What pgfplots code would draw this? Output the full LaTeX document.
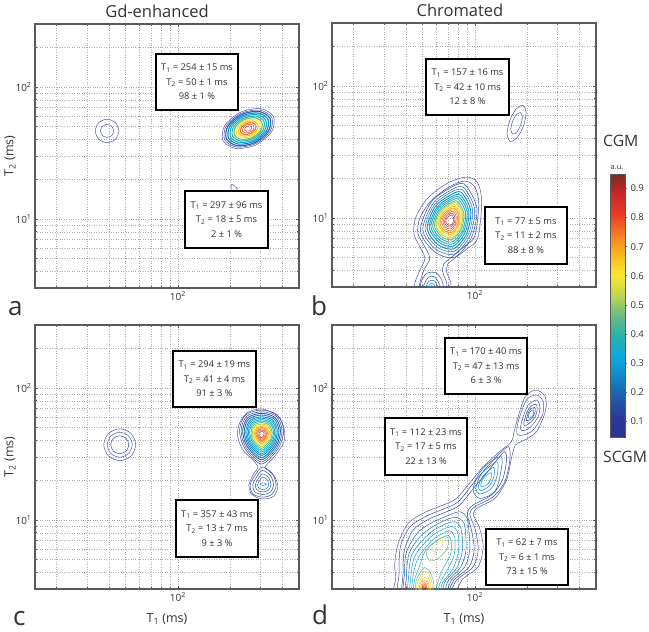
\documentclass[border=0pt]{standalone}
\usepackage{fontspec}
\setmainfont{Open Sans}
\usepackage{pgfplots}
\pgfplotsset{compat=1.18}

\definecolor{L05}{HTML}{5058A8}
\definecolor{L10}{HTML}{3E4AA0}
\definecolor{L15}{HTML}{2C4CA2}
\definecolor{L20}{HTML}{2260AB}
\definecolor{L25}{HTML}{1A74B8}
\definecolor{L30}{HTML}{1089C8}
\definecolor{L35}{HTML}{0D9FD8}
\definecolor{L40}{HTML}{10AED8}
\definecolor{L45}{HTML}{2FB3A8}
\definecolor{L50}{HTML}{6DBB82}
\definecolor{L55}{HTML}{B6D65A}
\definecolor{L60}{HTML}{FBE62D}
\definecolor{L65}{HTML}{FBC020}
\definecolor{L70}{HTML}{F7A11F}
\definecolor{L75}{HTML}{F37A22}
\definecolor{L80}{HTML}{EC3A26}
\definecolor{L85}{HTML}{D92A27}
\definecolor{L90}{HTML}{B6262A}
\definecolor{L95}{HTML}{8E2A25}
\definecolor{frame}{HTML}{5A5A5A}
\definecolor{txt}{HTML}{333333}

\pgfplotsset{
  peak/.style={line width=.5pt},
  tpanel/.style={
    scale only axis, width=264pt, height=264pt,
    xmin=15, xmax=500, ymin=3, ymax=300,
    xtick={100}, xticklabels={10\textsuperscript{2}},
    ytick={10,100}, yticklabels={10\textsuperscript{1},10\textsuperscript{2}},
    minor xtick={20,30,40,50,60,70,80,90,200,300,400},
    minor ytick={3,4,5,6,7,8,9,20,30,40,50,60,70,80,90,200},
    xmajorgrids, xminorgrids, ymajorgrids, yminorgrids,
    grid style={dotted, draw=black!32, line width=.45pt},
    minor grid style={dotted, draw=black!32, line width=.45pt},
    axis line style={draw=frame, line width=1.1pt},
    tick style={draw=frame, line width=.6pt},
    tick align=inside, major tick length=3pt, minor tick length=2pt,
    tick label style={font=\fontsize{10}{12}\selectfont, text=txt},
    label style={font=\fontsize{12.5}{15}\selectfont, text=txt},
    ylabel shift=-7pt, xlabel shift=5pt,
  },
}

% contours: columns are log10(T1) and log10(T2)
\newcommand{\cl}[2]{\addplot[draw=#1, line width=.5pt, smooth cycle] table[row sep=\\, header=false, x expr={10^\thisrowno{0}}, y expr={10^\thisrowno{1}}] {#2};}
\newcommand{\ck}[2]{\addplot[draw=#1, peak, smooth cycle] table[row sep=\\, header=false, x expr={10^\thisrowno{0}}, y expr={10^\thisrowno{1}}] {#2};}
\newcommand{\op}[2]{\addplot[draw=#1, line width=.5pt, smooth] table[row sep=\\, header=false, x expr={10^\thisrowno{0}}, y expr={10^\thisrowno{1}}] {#2};}

% annotation box: left, top, right, bottom in pt, then three lines
\newcommand{\info}[7]{%
  \draw[black, line width=2pt, fill=white] (#1pt,-#2pt) rectangle (#3pt,-#4pt);
  \node[align=center, text=txt, inner sep=0pt, font=\fontsize{9.3}{14.4}\selectfont] at ({(#1+#3)/2*1pt},{-(#2+#4)/2*1pt}) {#5\\#6\\#7};
}
\newcommand{\Tone}{T\textsubscript{1}}
\newcommand{\Ttwo}{T\textsubscript{2}}

\begin{document}
\begin{tikzpicture}
\path[use as bounding box] (0,0) rectangle (649pt,-632pt);

% a
\begin{loglogaxis}[tpanel, at={(35pt,-288pt)}, ylabel={\Ttwo{} (ms)}, peak/.style={line width=1.1pt}]
\cl{L05}{1.660 1.667\\1.640 1.730\\1.592 1.756\\1.544 1.730\\1.524 1.667\\1.544 1.604\\1.592 1.578\\1.640 1.604\\}
\cl{L05}{1.630 1.667\\1.619 1.702\\1.592 1.716\\1.565 1.702\\1.554 1.667\\1.565 1.632\\1.592 1.618\\1.619 1.632\\}
\cl{L05}{2.310 1.263\\2.342 1.230\\2.330 1.205\\2.310 1.205\\}
\cl{L05}{2.552 1.775\\2.478 1.836\\2.362 1.809\\2.271 1.709\\2.260 1.595\\2.334 1.534\\2.450 1.561\\2.541 1.661\\}
\cl{L10}{2.542 1.769\\2.473 1.825\\2.365 1.800\\2.280 1.707\\2.270 1.601\\2.339 1.545\\2.447 1.570\\2.532 1.663\\}
\ck{L20}{2.532 1.762\\2.468 1.815\\2.368 1.792\\2.290 1.706\\2.280 1.608\\2.344 1.555\\2.444 1.578\\2.522 1.664\\}
\ck{L30}{2.520 1.755\\2.462 1.803\\2.372 1.782\\2.301 1.704\\2.292 1.615\\2.350 1.567\\2.440 1.588\\2.511 1.666\\}
\ck{L40}{2.508 1.748\\2.456 1.791\\2.375 1.772\\2.311 1.702\\2.304 1.622\\2.356 1.579\\2.437 1.598\\2.501 1.668\\}
\ck{L45}{2.497 1.741\\2.451 1.779\\2.379 1.762\\2.322 1.700\\2.315 1.629\\2.361 1.591\\2.433 1.608\\2.490 1.670\\}
\ck{L50}{2.485 1.734\\2.445 1.767\\2.382 1.752\\2.333 1.698\\2.327 1.636\\2.367 1.603\\2.430 1.618\\2.479 1.672\\}
\ck{L60}{2.473 1.726\\2.439 1.754\\2.386 1.742\\2.344 1.696\\2.339 1.644\\2.373 1.616\\2.426 1.628\\2.468 1.674\\}
\ck{L65}{2.461 1.719\\2.433 1.742\\2.389 1.732\\2.355 1.694\\2.351 1.651\\2.379 1.628\\2.423 1.638\\2.457 1.676\\}
\ck{L75}{2.450 1.712\\2.428 1.730\\2.393 1.722\\2.366 1.692\\2.362 1.658\\2.384 1.640\\2.419 1.648\\2.446 1.678\\}
\cl{L80}{2.438 1.705\\2.422 1.718\\2.396 1.712\\2.376 1.690\\2.374 1.665\\2.390 1.652\\2.416 1.658\\2.436 1.680\\}
\cl{L85}{2.426 1.698\\2.416 1.706\\2.400 1.702\\2.387 1.688\\2.386 1.672\\2.396 1.664\\2.412 1.668\\2.425 1.682\\}
\end{loglogaxis}

% b
\begin{loglogaxis}[tpanel, at={(332pt,-287pt)}, peak/.style={line width=.9pt}]
\cl{L05}{2.279 1.853\\2.296 1.799\\2.281 1.697\\2.243 1.607\\2.204 1.581\\2.186 1.635\\2.201 1.737\\2.239 1.827\\}
\cl{L05}{2.264 1.798\\2.274 1.766\\2.265 1.705\\2.242 1.651\\2.219 1.636\\2.208 1.668\\2.217 1.729\\2.240 1.783\\}
\op{L05}{1.648 .416\\1.654 .507\\1.683 .605\\1.712 .696\\1.677 .795\\1.648 .886\\1.660 1.007\\1.729 1.151\\1.844 1.265\\1.954 1.310\\2.017 1.265\\2.040 1.113\\2.017 .848\\1.960 .772\\1.885 .696\\1.844 .651\\1.838 .590\\1.862 .507\\1.856 .416\\}
\op{L10}{1.671 .416\\1.683 .507\\1.706 .605\\1.740 .696\\1.706 .795\\1.671 .886\\1.683 1.0\\1.746 1.128\\1.850 1.234\\1.942 1.280\\2.0 1.234\\2.023 1.106\\2.0 .863\\1.942 .787\\1.867 .704\\1.821 .651\\1.815 .590\\1.838 .507\\1.833 .416\\}
\cl{L15}{1.938 1.258\\2.011 1.080\\1.982 .856\\1.885 .703\\1.769 .742\\1.686 .901\\1.744 1.112\\1.846 1.219\\}
\cl{L20}{1.931 1.235\\1.998 1.072\\1.972 .867\\1.883 .727\\1.776 .762\\1.700 .908\\1.754 1.101\\1.847 1.200\\}
\cl{L25}{1.926 1.215\\1.987 1.065\\1.963 .876\\1.881 .747\\1.782 .780\\1.713 .914\\1.762 1.092\\1.847 1.183\\}
\ck{L30}{1.920 1.196\\1.976 1.058\\1.954 .885\\1.879 .767\\1.788 .797\\1.725 .920\\1.770 1.083\\1.848 1.166\\}
\ck{L35}{1.914 1.176\\1.965 1.051\\1.945 .894\\1.877 .787\\1.795 .814\\1.737 .926\\1.778 1.074\\1.849 1.149\\}
\ck{L40}{1.909 1.160\\1.956 1.046\\1.937 .902\\1.875 .804\\1.800 .828\\1.747 .931\\1.784 1.066\\1.850 1.135\\}
\ck{L45}{1.904 1.144\\1.947 1.040\\1.930 .910\\1.873 .820\\1.805 .843\\1.757 .935\\1.791 1.058\\1.850 1.121\\}
\ck{L50}{1.899 1.127\\1.937 1.034\\1.922 .917\\1.871 .837\\1.810 .857\\1.767 .940\\1.797 1.051\\1.851 1.107\\}
\ck{L55}{1.895 1.114\\1.930 1.030\\1.916 .923\\1.870 .850\\1.814 .869\\1.775 .944\\1.803 1.045\\1.851 1.096\\}
\ck{L60}{1.891 1.101\\1.923 1.025\\1.910 .929\\1.869 .864\\1.819 .880\\1.783 .948\\1.808 1.039\\1.852 1.085\\}
\ck{L65}{1.887 1.088\\1.915 1.020\\1.904 .935\\1.867 .877\\1.823 .892\\1.791 .952\\1.813 1.033\\1.852 1.074\\}
\ck{L70}{1.883 1.075\\1.908 1.016\\1.898 .941\\1.866 .890\\1.827 .903\\1.799 .956\\1.819 1.027\\1.853 1.062\\}
\cl{L75}{1.880 1.062\\1.900 1.011\\1.892 .948\\1.864 .904\\1.831 .915\\1.808 .960\\1.824 1.020\\1.853 1.051\\}
\cl{L80}{1.876 1.049\\1.893 1.007\\1.886 .954\\1.863 .917\\1.835 .926\\1.816 .964\\1.829 1.014\\1.854 1.040\\}
\cl{L85}{1.872 1.036\\1.886 1.002\\1.880 .960\\1.862 .931\\1.839 .938\\1.824 .968\\1.835 1.008\\1.854 1.029\\}
\cl{L90}{1.868 1.023\\1.878 .998\\1.874 .966\\1.860 .944\\1.844 .949\\1.832 .972\\1.840 1.002\\1.855 1.018\\}
\op{L15}{1.683 .416\\1.688 .507\\1.717 .575\\1.752 .590\\1.787 .575\\1.815 .507\\1.821 .416\\}
\op{L20}{1.700 .416\\1.706 .492\\1.729 .545\\1.752 .560\\1.775 .545\\1.798 .492\\1.804 .416\\}
\op{L25}{1.712 .416\\1.717 .476\\1.735 .522\\1.752 .529\\1.769 .522\\1.787 .476\\1.792 .416\\}
\op{L30}{1.723 .416\\1.729 .469\\1.740 .499\\1.752 .507\\1.763 .499\\1.775 .469\\1.781 .416\\}
\op{L35}{1.729 .416\\1.735 .461\\1.752 .488\\1.769 .461\\1.775 .416\\}
\end{loglogaxis}

% c
\begin{loglogaxis}[tpanel, at={(35pt,-589pt)}, ylabel={\Ttwo{} (ms)}, xlabel={\Tone{} (ms)}, peak/.style={line width=.85pt}]
\cl{L05}{1.757 1.570\\1.730 1.656\\1.665 1.691\\1.600 1.656\\1.573 1.570\\1.600 1.484\\1.665 1.449\\1.730 1.484\\}
\cl{L05}{1.737 1.570\\1.716 1.637\\1.665 1.665\\1.614 1.637\\1.593 1.570\\1.614 1.503\\1.665 1.475\\1.716 1.503\\}
\cl{L10}{1.717 1.570\\1.702 1.618\\1.665 1.638\\1.628 1.618\\1.613 1.570\\1.628 1.522\\1.665 1.502\\1.702 1.522\\}
\cl{L05}{2.502 1.401\\2.560 1.485\\2.612 1.591\\2.612 1.697\\2.577 1.788\\2.485 1.841\\2.398 1.811\\2.352 1.720\\2.346 1.629\\2.375 1.530\\2.427 1.462\\2.462 1.401\\2.433 1.341\\2.410 1.265\\2.421 1.204\\2.462 1.166\\2.502 1.159\\2.554 1.181\\2.577 1.250\\2.560 1.325\\2.519 1.378\\}
\cl{L10}{2.483 1.833\\2.575 1.795\\2.610 1.681\\2.581 1.545\\2.483 1.424\\2.385 1.545\\2.356 1.681\\2.391 1.795\\}
\cl{L15}{2.483 1.820\\2.569 1.785\\2.601 1.679\\2.574 1.552\\2.483 1.440\\2.392 1.552\\2.365 1.679\\2.397 1.785\\}
\ck{L20}{2.483 1.808\\2.562 1.775\\2.592 1.677\\2.567 1.560\\2.483 1.456\\2.399 1.560\\2.374 1.677\\2.404 1.775\\}
\ck{L25}{2.483 1.795\\2.556 1.765\\2.583 1.675\\2.560 1.567\\2.483 1.472\\2.406 1.567\\2.383 1.675\\2.410 1.765\\}
\ck{L30}{2.483 1.782\\2.549 1.755\\2.574 1.673\\2.554 1.575\\2.483 1.488\\2.412 1.575\\2.392 1.673\\2.417 1.755\\}
\ck{L35}{2.483 1.771\\2.544 1.746\\2.567 1.671\\2.548 1.581\\2.483 1.501\\2.418 1.581\\2.399 1.671\\2.422 1.746\\}
\ck{L40}{2.483 1.760\\2.538 1.737\\2.559 1.669\\2.542 1.587\\2.483 1.515\\2.424 1.587\\2.407 1.669\\2.428 1.737\\}
\ck{L45}{2.483 1.749\\2.533 1.729\\2.552 1.667\\2.536 1.594\\2.483 1.528\\2.430 1.594\\2.414 1.667\\2.433 1.729\\}
\ck{L50}{2.483 1.738\\2.527 1.720\\2.544 1.665\\2.530 1.600\\2.483 1.542\\2.436 1.600\\2.422 1.665\\2.439 1.720\\}
\ck{L55}{2.483 1.727\\2.522 1.711\\2.536 1.664\\2.524 1.606\\2.483 1.556\\2.442 1.606\\2.430 1.664\\2.444 1.711\\}
\ck{L60}{2.483 1.718\\2.517 1.704\\2.530 1.662\\2.519 1.612\\2.483 1.567\\2.447 1.612\\2.436 1.662\\2.449 1.704\\}
\ck{L65}{2.483 1.709\\2.512 1.697\\2.524 1.661\\2.514 1.617\\2.483 1.578\\2.452 1.617\\2.442 1.661\\2.454 1.697\\}
\ck{L70}{2.483 1.700\\2.508 1.690\\2.517 1.659\\2.509 1.622\\2.483 1.590\\2.457 1.622\\2.449 1.659\\2.458 1.690\\}
\ck{L75}{2.483 1.691\\2.503 1.683\\2.511 1.658\\2.505 1.628\\2.483 1.601\\2.461 1.628\\2.455 1.658\\2.463 1.683\\}
\cl{L80}{2.483 1.682\\2.499 1.675\\2.505 1.656\\2.500 1.633\\2.483 1.612\\2.466 1.633\\2.461 1.656\\2.467 1.675\\}
\cl{L85}{2.483 1.673\\2.494 1.668\\2.498 1.655\\2.495 1.638\\2.483 1.624\\2.471 1.638\\2.468 1.655\\2.472 1.668\\}
\cl{L10}{2.486 1.401\\2.544 1.355\\2.567 1.264\\2.544 1.196\\2.492 1.173\\2.434 1.196\\2.417 1.264\\2.446 1.340\\}
\cl{L15}{2.487 1.375\\2.534 1.338\\2.552 1.266\\2.534 1.211\\2.492 1.193\\2.446 1.211\\2.432 1.266\\2.455 1.326\\}
\cl{L20}{2.488 1.349\\2.523 1.322\\2.537 1.267\\2.523 1.226\\2.492 1.213\\2.457 1.226\\2.447 1.267\\2.464 1.313\\}
\cl{L25}{2.489 1.326\\2.514 1.307\\2.524 1.269\\2.514 1.240\\2.492 1.230\\2.468 1.240\\2.460 1.269\\2.473 1.301\\}
\cl{L30}{2.511 1.270\\2.492 1.282\\2.473 1.270\\2.492 1.262\\}
\end{loglogaxis}

% d
\begin{loglogaxis}[tpanel, at={(332pt,-589pt)}, xlabel={\Tone{} (ms)}]
\cl{L05}{1.552 .418\\1.544 .569\\1.538 .670\\1.558 .822\\1.615 .974\\1.711 1.057\\1.817 1.113\\1.894 1.163\\1.971 1.282\\2.048 1.403\\2.154 1.530\\2.211 1.593\\2.236 1.719\\2.288 1.929\\2.352 1.984\\2.404 1.939\\2.409 1.833\\2.356 1.669\\2.279 1.600\\2.234 1.568\\2.211 1.466\\2.183 1.302\\2.115 1.163\\2.019 1.095\\1.990 1.044\\2.025 .948\\2.048 .797\\2.019 .645\\1.933 .557\\1.846 .418\\}
\cl{L10}{1.571 .418\\1.563 .595\\1.571 .797\\1.625 .948\\1.721 1.029\\1.827 1.087\\1.904 1.138\\1.990 1.277\\2.058 1.383\\2.144 1.504\\2.196 1.555\\2.202 1.454\\2.173 1.290\\2.106 1.176\\2.000 1.100\\1.971 1.044\\2.004 .923\\2.019 .772\\1.990 .645\\1.894 .544\\1.827 .418\\}
\cl{L15}{1.596 .418\\1.586 .595\\1.594 .772\\1.644 .923\\1.731 1.004\\1.836 1.062\\1.913 1.113\\2.000 1.252\\2.067 1.353\\2.134 1.466\\2.173 1.517\\2.183 1.454\\2.159 1.302\\2.096 1.189\\1.990 1.113\\1.956 1.050\\1.981 .923\\1.996 .772\\1.967 .645\\1.879 .544\\1.817 .418\\}
\cl{L20}{2.154 1.479\\2.148 1.353\\2.115 1.214\\2.029 1.163\\1.990 1.226\\2.019 1.340\\2.077 1.429\\}
\cl{L25}{2.131 1.441\\2.129 1.340\\2.096 1.239\\2.029 1.196\\2.006 1.239\\2.033 1.340\\2.083 1.403\\}
\cl{L30}{2.110 1.398\\2.110 1.327\\2.083 1.257\\2.033 1.221\\2.021 1.257\\2.044 1.327\\2.083 1.378\\}
\cl{L35}{2.096 1.358\\2.090 1.302\\2.067 1.264\\2.036 1.252\\2.036 1.282\\2.056 1.327\\}
\cl{L05}{2.356 1.947\\2.394 1.896\\2.390 1.795\\2.336 1.681\\2.279 1.643\\2.244 1.651\\2.250 1.744\\2.298 1.909\\}
\cl{L05}{2.356 1.909\\2.375 1.858\\2.365 1.782\\2.323 1.707\\2.279 1.676\\2.263 1.694\\2.279 1.782\\2.308 1.871\\}
\cl{L10}{2.352 1.878\\2.360 1.838\\2.346 1.777\\2.313 1.732\\2.288 1.712\\2.283 1.737\\2.298 1.808\\2.321 1.858\\}
\cl{L15}{2.344 1.853\\2.348 1.820\\2.333 1.777\\2.308 1.752\\2.298 1.752\\2.302 1.787\\2.317 1.833\\}
\cl{L25}{2.340 1.833\\2.333 1.787\\2.313 1.770\\2.308 1.787\\2.321 1.823\\}
\cl{L20}{1.602 .418\\1.594 .595\\1.606 .759\\1.667 .898\\1.744 .974\\1.836 1.029\\1.913 1.062\\1.956 1.012\\1.967 .898\\1.971 .772\\1.942 .645\\1.865 .544\\1.809 .418\\}
\cl{L25}{1.613 .418\\1.606 .582\\1.621 .746\\1.683 .873\\1.756 .948\\1.840 1.004\\1.898 1.019\\1.938 .974\\1.948 .873\\1.948 .759\\1.917 .640\\1.846 .539\\1.802 .418\\}
\cl{L30}{1.625 .418\\1.619 .582\\1.636 .734\\1.698 .847\\1.763 .923\\1.840 .974\\1.886 .986\\1.917 .948\\1.929 .847\\1.925 .746\\1.894 .633\\1.827 .532\\1.792 .418\\}
\cl{L35}{1.635 .418\\1.631 .569\\1.652 .721\\1.711 .827\\1.771 .898\\1.840 .943\\1.875 .948\\1.900 .911\\1.908 .822\\1.902 .734\\1.871 .625\\1.813 .524\\1.783 .418\\}
\cl{L40}{1.644 .418\\1.642 .557\\1.667 .696\\1.717 .792\\1.775 .868\\1.836 .911\\1.863 .916\\1.883 .873\\1.886 .802\\1.879 .726\\1.846 .633\\1.798 .519\\1.773 .418\\}
\cl{L45}{1.652 .418\\1.652 .544\\1.683 .658\\1.711 .759\\1.775 .837\\1.827 .878\\1.852 .878\\1.865 .835\\1.865 .784\\1.856 .721\\1.817 .633\\1.784 .519\\1.765 .418\\}
\cl{L50}{1.721 .734\\1.731 .792\\1.779 .842\\1.821 .873\\1.844 .865\\1.848 .822\\1.833 .767\\1.788 .708\\1.744 .691\\}
\cl{L60}{1.750 .784\\1.788 .835\\1.813 .847\\1.813 .809\\1.783 .767\\1.756 .759\\}
\op{L50}{1.660 .418\\1.660 .532\\1.688 .607\\1.711 .640\\1.740 .607\\1.763 .524\\1.758 .418\\}
\op{L55}{1.665 .418\\1.667 .519\\1.692 .590\\1.711 .612\\1.734 .590\\1.754 .519\\1.750 .418\\}
\op{L60}{1.673 .418\\1.675 .506\\1.696 .569\\1.711 .587\\1.729 .569\\1.744 .506\\1.742 .418\\}
\op{L65}{1.679 .418\\1.681 .499\\1.698 .549\\1.711 .564\\1.725 .549\\1.736 .499\\1.736 .418\\}
\op{L70}{1.685 .418\\1.688 .494\\1.700 .532\\1.711 .544\\1.723 .532\\1.731 .494\\1.731 .418\\}
\op{L75}{1.690 .418\\1.694 .489\\1.711 .526\\1.725 .489\\1.725 .418\\}
\op{L80}{1.696 .418\\1.700 .486\\1.711 .511\\1.721 .486\\1.719 .418\\}
\op{L85}{1.700 .418\\1.704 .484\\1.711 .496\\1.717 .484\\1.715 .418\\}
\end{loglogaxis}

% colour bar
\begin{axis}[
  scale only axis, width=15pt, height=263pt, at={(610pt,-437pt)},
  view={0}{90}, xmin=0, xmax=1, ymin=0.045, ymax=0.95,
  xtick=\empty, ytick={0.1,0.2,0.3,0.4,0.5,0.6,0.7,0.8,0.9},
  yticklabels={0.1,0.2,0.3,0.4,0.5,0.6,0.7,0.8,0.9},
  ytick pos=right, tick align=outside, major tick length=2pt,
  yticklabel pos=right,
  tick style={draw=frame, line width=.5pt},
  tick label style={font=\fontsize{9.5}{12}\selectfont, text=txt},
  axis line style={draw=frame, line width=.4pt},
  point meta min=0.045, point meta max=0.95,
  colormap={barmap}{rgb255=(46,49,146) rgb255=(44,58,150) rgb255=(31,92,168) rgb255=(16,137,200) rgb255=(13,170,222) rgb255=(40,178,170) rgb255=(109,187,130) rgb255=(190,215,80) rgb255=(251,230,45) rgb255=(250,185,30) rgb255=(244,125,34) rgb255=(236,58,38) rgb255=(200,40,40) rgb255=(122,42,35)},
]
\addplot3[surf, shader=interp, point meta=y] coordinates {
(0,0.045,0) (1,0.045,0)

(0,0.95,0) (1,0.95,0)
};
\end{axis}

\info{156}{54}{238}{110}{\Tone{} = 254 ± 15 ms}{\Ttwo{} = 50 ± 1 ms}{98 ± 1 \%}
\info{185}{191}{268}{248}{\Tone{} = 297 ± 96 ms}{\Ttwo{} = 18 ± 5 ms}{2 ± 1 \%}
\info{426}{59}{509}{115}{\Tone{} = 157 ± 16 ms}{\Ttwo{} = 42 ± 10 ms}{12 ± 8 \%}
\info{485}{207}{567}{264}{\Tone{} = 77 ± 5 ms}{\Ttwo{} = 11 ± 2 ms}{88 ± 8 \%}
\info{173}{351}{256}{407}{\Tone{} = 294 ± 19 ms}{\Ttwo{} = 41 ± 4 ms}{91 ± 3 \%}
\info{176}{500}{258}{557}{\Tone{} = 357 ± 43 ms}{\Ttwo{} = 13 ± 7 ms}{9 ± 3 \%}
\info{445}{338}{527}{394}{\Tone{} = 170 ± 40 ms}{\Ttwo{} = 47 ± 13 ms}{6 ± 3 \%}
\info{385}{418}{467}{475}{\Tone{} = 112 ± 23 ms}{\Ttwo{} = 17 ± 5 ms}{22 ± 13 \%}
\info{486}{529}{568}{585}{\Tone{} = 62 ± 7 ms}{\Ttwo{} = 6 ± 1 ms}{73 ± 15 \%}

\node[text=txt, font=\fontsize{16.5}{18}\selectfont] at (157pt,-11pt) {Gd-enhanced};
\node[text=txt, font=\fontsize{16.5}{18}\selectfont] at (460pt,-10pt) {Chromated};
\node[anchor=base west, inner sep=0pt, text=txt, font=\fontsize{26}{30}\selectfont] at (8pt,-315pt) {a};
\node[anchor=base west, inner sep=0pt, text=txt, font=\fontsize{26}{30}\selectfont] at (311pt,-315pt) {b};
\node[anchor=base west, inner sep=0pt, text=txt, font=\fontsize{26}{30}\selectfont] at (13pt,-625pt) {c};
\node[anchor=base west, inner sep=0pt, text=txt, font=\fontsize{26}{30}\selectfont] at (312pt,-624pt) {d};
\node[anchor=west, inner sep=0pt, text=txt, font=\fontsize{15.7}{18}\selectfont] at (603pt,-141pt) {CGM};
\node[anchor=west, inner sep=0pt, text=txt, font=\fontsize{15.7}{18}\selectfont] at (603pt,-457pt) {SCGM};
\node[text=txt, font=\fontsize{7.5}{9}\selectfont] at (617pt,-168pt) {a.u.};
\end{tikzpicture}
\end{document}
